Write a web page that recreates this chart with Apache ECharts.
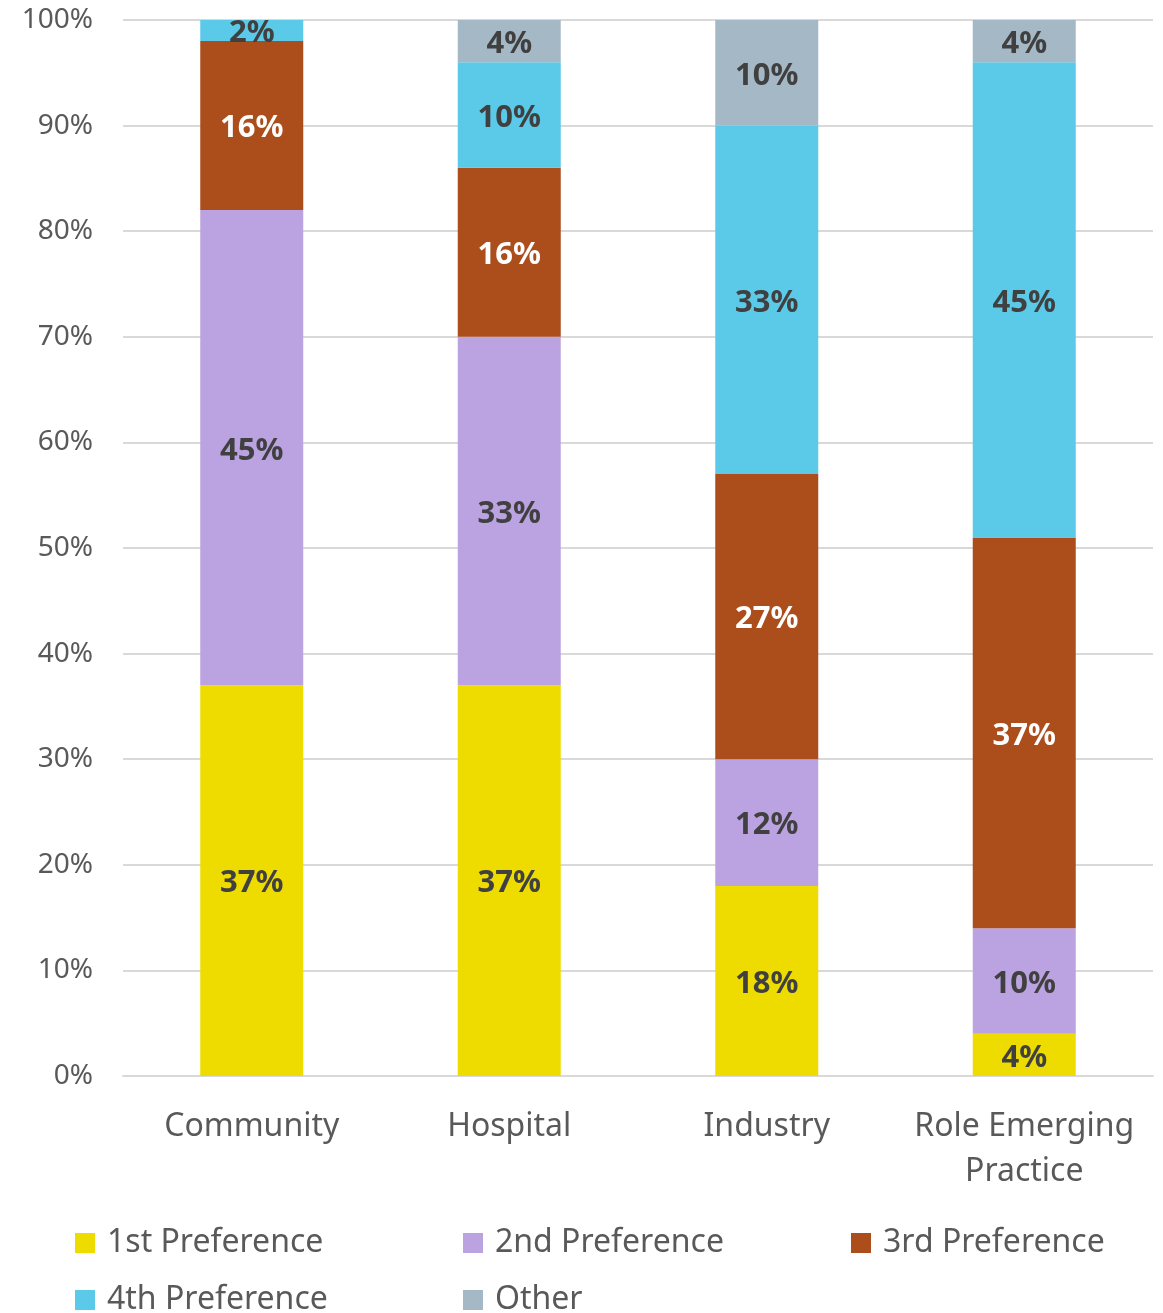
<!DOCTYPE html>
<html>
<head>
<meta charset="utf-8">
<script src="https://cdn.jsdelivr.net/npm/echarts@6/dist/echarts.min.js"></script>
<style>
    html, body { margin: 0; padding: 0; background: #fff; }
    #chart { width: 1163px; height: 1313px; }
</style>
</head>
<body>
<div id="chart"></div>
<script>
    const categories = ['Community', 'Hospital', 'Industry', 'Role Emerging\nPractice']
    const seriesNames = ['1st Preference', '2nd Preference', '3rd Preference', '4th Preference', 'Other']
    const first = [37, 37, 18, 4]
    const second = [45, 33, 12, 10]
    const third = [16, 16, 27, 37]
    const fourth = [2, 10, 33, 45]
    const other = [0, 4, 10, 4]

    const font = '"Noto Sans", "Open Sans", sans-serif'

    function makeSeries(name, data, color, labelColor) {
        return {
            name: name,
            type: 'bar',
            stack: 'total',
            barWidth: '40%',
            data: data,
            itemStyle: { color: color },
            label: {
                show: true,
                position: 'inside',
                offset: [0, 3],
                color: labelColor,
                fontFamily: font,
                fontWeight: 'bold',
                fontSize: 31,
                formatter: p => p.value > 0 ? p.value + '%' : ''
            }
        }
    }

    // one legend per row, the last item in a row gets a narrower text box so it fits
    function makeLegend(top, names) {
        return {
            left: 70,
            top: top,
            itemWidth: 20,
            itemHeight: 20,
            itemGap: 23,
            icon: 'rect',
            data: names.map((n, i) => i < 2 ? n : { name: n, textStyle: { width: 250 } }),
            textStyle: {
                fontFamily: font,
                fontSize: 32,
                color: '#595959',
                width: 333,
                lineHeight: 34,
                padding: [0, 0, 0, 7]
            }
        }
    }

    const chart = echarts.init(document.getElementById('chart'))
    chart.setOption({
        animation: false,
        grid: { left: 123, right: 10, top: 20, bottom: 237 },
        legend: [
            makeLegend(1221, seriesNames.slice(0, 3)),
            makeLegend(1278, seriesNames.slice(3))
        ],
        xAxis: {
            type: 'category',
            data: categories,
            axisLine: { lineStyle: { color: '#d9d9d9', width: 2 } },
            axisTick: { show: false },
            axisLabel: {
                interval: 0,
                fontFamily: font,
                fontSize: 32,
                color: '#595959',
                margin: 28,
                lineHeight: 45
            }
        },
        yAxis: {
            type: 'value',
            min: 0,
            max: 100,
            interval: 10,
            axisLabel: {
                fontFamily: font,
                fontSize: 28,
                color: '#595959',
                margin: 30,
                formatter: '{value}%'
            },
            splitLine: { lineStyle: { color: '#d9d9d9', width: 2 } }
        },
        series: [
            makeSeries(seriesNames[0], first, '#eedc00', '#404040'),
            makeSeries(seriesNames[1], second, '#bba2e0', '#404040'),
            makeSeries(seriesNames[2], third, '#ab4e1c', '#ffffff'),
            makeSeries(seriesNames[3], fourth, '#5bc9e8', '#404040'),
            makeSeries(seriesNames[4], other, '#a5b8c6', '#404040')
        ]
    })
</script>
</body>
</html>
